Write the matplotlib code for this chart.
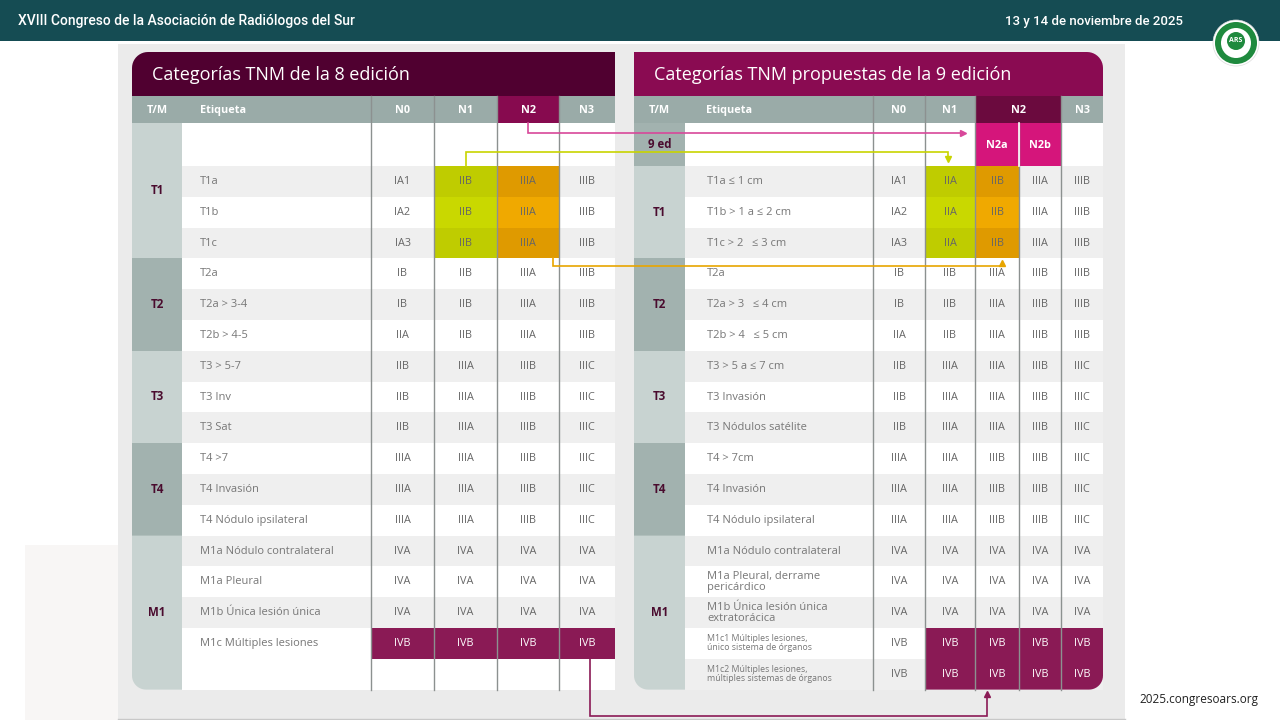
import numpy as np
import matplotlib
matplotlib.use("Agg")
import matplotlib.pyplot as plt
from matplotlib.patches import Polygon, Rectangle, Circle

# ---------------- data ----------------
header_title = "XVIII Congreso de la Asociación de Radiólogos del Sur"
header_date = "13 y 14 de noviembre de 2025"
footer_url = "2025.congresoars.org"

left_title = "Categorías TNM de la 8 edición"
right_title = "Categorías TNM propuestas de la 9 edición"

left_cols = ["T/M", "Etiqueta", "N0", "N1", "N2", "N3"]
right_cols = ["T/M", "Etiqueta", "N0", "N1", "N2", "N3"]
right_subcols = ["N2a", "N2b"]

left_group_names = ["T1", "T2", "T3", "T4", "M1"]
left_group_rows = [4, 3, 3, 3, 5]
right_group_names = ["9 ed", "T1", "T2", "T3", "T4", "M1"]
right_group_rows = [1, 3, 3, 3, 3, 5]

left_labels = ["", "T1a", "T1b", "T1c", "T2a", "T2a > 3-4", "T2b > 4-5",
               "T3 > 5-7", "T3 Inv", "T3 Sat", "T4 >7", "T4 Invasión",
               "T4 Nódulo ipsilateral", "M1a Nódulo contralateral",
               "M1a Pleural", "M1b Única lesión única",
               "M1c Múltiples lesiones", ""]
left_values = [
    ["", "", "", ""],
    ["IA1", "IIB", "IIIA", "IIIB"],
    ["IA2", "IIB", "IIIA", "IIIB"],
    ["IA3", "IIB", "IIIA", "IIIB"],
    ["IB", "IIB", "IIIA", "IIIB"],
    ["IB", "IIB", "IIIA", "IIIB"],
    ["IIA", "IIB", "IIIA", "IIIB"],
    ["IIB", "IIIA", "IIIB", "IIIC"],
    ["IIB", "IIIA", "IIIB", "IIIC"],
    ["IIB", "IIIA", "IIIB", "IIIC"],
    ["IIIA", "IIIA", "IIIB", "IIIC"],
    ["IIIA", "IIIA", "IIIB", "IIIC"],
    ["IIIA", "IIIA", "IIIB", "IIIC"],
    ["IVA", "IVA", "IVA", "IVA"],
    ["IVA", "IVA", "IVA", "IVA"],
    ["IVA", "IVA", "IVA", "IVA"],
    ["IVB", "IVB", "IVB", "IVB"],
    ["", "", "", ""],
]

right_labels = ["", "T1a ≤ 1 cm", "T1b > 1 a ≤ 2 cm", "T1c > 2   ≤ 3 cm",
                "T2a", "T2a > 3   ≤ 4 cm", "T2b > 4   ≤ 5 cm",
                "T3 > 5 a ≤ 7 cm", "T3 Invasión", "T3 Nódulos satélite",
                "T4 > 7cm", "T4 Invasión", "T4 Nódulo ipsilateral",
                "M1a Nódulo contralateral", "M1a Pleural, derrame\npericárdico",
                "M1b Única lesión única\nextratorácica",
                "M1c1 Múltiples lesiones,\núnico sistema de órganos",
                "M1c2 Múltiples lesiones,\nmúltiples sistemas de órganos"]
right_values = [
    ["", "", "", "", ""],
    ["IA1", "IIA", "IIB", "IIIA", "IIIB"],
    ["IA2", "IIA", "IIB", "IIIA", "IIIB"],
    ["IA3", "IIA", "IIB", "IIIA", "IIIB"],
    ["IB", "IIB", "IIIA", "IIIB", "IIIB"],
    ["IB", "IIB", "IIIA", "IIIB", "IIIB"],
    ["IIA", "IIB", "IIIA", "IIIB", "IIIB"],
    ["IIB", "IIIA", "IIIA", "IIIB", "IIIC"],
    ["IIB", "IIIA", "IIIA", "IIIB", "IIIC"],
    ["IIB", "IIIA", "IIIA", "IIIB", "IIIC"],
    ["IIIA", "IIIA", "IIIB", "IIIB", "IIIC"],
    ["IIIA", "IIIA", "IIIB", "IIIB", "IIIC"],
    ["IIIA", "IIIA", "IIIB", "IIIB", "IIIC"],
    ["IVA", "IVA", "IVA", "IVA", "IVA"],
    ["IVA", "IVA", "IVA", "IVA", "IVA"],
    ["IVA", "IVA", "IVA", "IVA", "IVA"],
    ["IVB", "IVB", "IVB", "IVB", "IVB"],
    ["IVB", "IVB", "IVB", "IVB", "IVB"],
]

# ---------------- style / layout ----------------
FONT = ["Open Sans", "DejaVu Sans"]
TEAL = "#154c53"
PANEL = "#ebebeb"
HDR = "#9aaba8"
G_LIGHT = "#c8d3d1"
G_DARK = "#a2b2af"
ROW_GRAY = "#efefef"
LEFT_TITLE_C = "#500030"
RIGHT_TITLE_C = "#8a0b52"
N2_LEFT_C = "#870a4f"
N2_RIGHT_C = "#6b0a3e"
PINK = "#d5157b"
MAROON = "#8a1a55"
GREEN = ["#bfcc00", "#c9d800", "#bfcc00"]
ORANGE = ["#df9a00", "#f0a900", "#df9a00"]
TXT = "#666666"
LBL = "#777777"
GRP = "#4a0b2e"
VLINE = "#8c9190"

TOP = 123
ROW0_H = 43
ROW_H = 30.8
TITLE_Y0, TITLE_Y1 = 52, 96
HDR_Y1 = 123

L_EDGES = [132, 182, 371, 434, 497, 559, 615]
R_EDGES = [634, 685, 873, 925, 975, 1019, 1061, 1103]


def row_top(i):
    return TOP if i == 0 else TOP + ROW0_H + (i - 1) * ROW_H


def row_bot(i):
    return row_top(i) + (ROW0_H if i == 0 else ROW_H)


def rrect(ax, x0, y0, x1, y1, color, tl=0, tr=0, br=0, bl=0, z=1, **kw):
    pts = []
    def arc(cx, cy, r, a0, a1):
        th = np.radians(np.linspace(a0, a1, 12))
        return list(zip(cx + r * np.cos(th), cy + r * np.sin(th)))
    pts += arc(x1 - tr, y0 + tr, tr, -90, 0) if tr else [(x1, y0)]
    pts += arc(x1 - br, y1 - br, br, 0, 90) if br else [(x1, y1)]
    pts += arc(x0 + bl, y1 - bl, bl, 90, 180) if bl else [(x0, y1)]
    pts += arc(x0 + tl, y0 + tl, tl, 180, 270) if tl else [(x0, y0)]
    ax.add_patch(Polygon(pts, closed=True, facecolor=color, edgecolor="none",
                         zorder=z, **kw))


fig = plt.figure(figsize=(12.8, 7.2), dpi=100)
ax = fig.add_axes([0, 0, 1, 1])
ax.set_xlim(0, 1280)
ax.set_ylim(720, 0)
ax.axis("off")
fig.patch.set_facecolor("white")

# top bar
ax.add_patch(Rectangle((0, 0), 1280, 41, facecolor=TEAL, edgecolor="none", zorder=1))
ax.text(18, 21, header_title, color="white", fontsize=10, family=["Roboto", "DejaVu Sans"],
        fontweight="medium", va="center", ha="left", zorder=5)
ax.text(1183, 21, header_date, color="white", fontsize=9.5, family=["Roboto", "DejaVu Sans"],
        fontweight="medium", va="center", ha="right", zorder=5)

# logo
ax.add_patch(Circle((1236, 43), 23, facecolor="white", edgecolor="#dddddd", lw=0.5, zorder=6))
ax.add_patch(Circle((1236, 43), 21, facecolor="#1f8a3e", edgecolor="none", zorder=7))
ax.add_patch(Circle((1236, 43), 15, facecolor="white", edgecolor="none", zorder=8))
ax.add_patch(Circle((1236, 41), 9, facecolor="#1f8a3e", edgecolor="none", zorder=9))
ax.text(1236, 41, "ARS", color="white", fontsize=5, fontweight="bold",
        ha="center", va="center", zorder=10, family=FONT)

# panel
ax.add_patch(Rectangle((118, 44), 1007, 676, facecolor=PANEL, edgecolor="none", zorder=0.5))
ax.plot([118, 1125], [719, 719], color="#c8c8c8", lw=1, zorder=0.6)
# faint building in the lower-left corner
ax.add_patch(Rectangle((25, 545), 93, 175, facecolor="#f8f6f5", edgecolor="none", zorder=0.4))

# footer
ax.text(1258, 699, footer_url, color="#222222", fontsize=8.5, ha="right", va="center",
        family=FONT, zorder=5)


def draw_table(edges, title, title_color, title_round, cols, label_x, n2_color, n2_span, n_rows):
    x0, x1 = edges[0], edges[-1]
    ybot = row_bot(n_rows - 1)
    if title_round == "left":
        rrect(ax, x0, TITLE_Y0, x1, TITLE_Y1, title_color, tl=16, z=2)
    else:
        rrect(ax, x0, TITLE_Y0, x1, TITLE_Y1, title_color, tr=16, z=2)
    ax.text(x0 + 20, (TITLE_Y0 + TITLE_Y1) / 2 + 1, title, color="white", fontsize=13,
            family=FONT, va="center", ha="left", zorder=5)
    ax.add_patch(Rectangle((x0, TITLE_Y1), x1 - x0, HDR_Y1 - TITLE_Y1, facecolor=HDR,
                           edgecolor="none", zorder=2))
    ax.add_patch(Rectangle((n2_span[0], TITLE_Y1), n2_span[1] - n2_span[0],
                           HDR_Y1 - TITLE_Y1, facecolor=n2_color, edgecolor="none", zorder=2.5))
    hy = (TITLE_Y1 + HDR_Y1) / 2 + 1
    ax.text((edges[0] + edges[1]) / 2, hy, cols[0], color="white", fontsize=7.8,
            fontweight="bold", ha="center", va="center", family=FONT, zorder=5)
    ax.text(label_x, hy, cols[1], color="white", fontsize=7.8, fontweight="bold",
            ha="left", va="center", family=FONT, zorder=5)
    return ybot, hy


# ---------- LEFT TABLE ----------
nL = len(left_labels)
ybot, hy = draw_table(L_EDGES, left_title, LEFT_TITLE_C, "left", left_cols,
                      200, N2_LEFT_C, (L_EDGES[4], L_EDGES[5]), nL)
for j, c in enumerate(left_cols[2:]):
    ax.text((L_EDGES[2 + j] + L_EDGES[3 + j]) / 2, hy, c, color="white", fontsize=7.8,
            fontweight="bold", ha="center", va="center", family=FONT, zorder=5)

for i in range(nL):
    col = ROW_GRAY if (i % 2 == 1 and i < nL - 1) else "white"
    ax.add_patch(Rectangle((L_EDGES[1], row_top(i)), L_EDGES[-1] - L_EDGES[1],
                           row_bot(i) - row_top(i), facecolor=col, edgecolor="none", zorder=2))
r = 0
for k, (g, n) in enumerate(zip(left_group_names, left_group_rows)):
    gc = G_LIGHT if k % 2 == 0 else G_DARK
    yt, yb = row_top(r), row_bot(r + n - 1)
    bl = 14 if k == len(left_group_names) - 1 else 0
    rrect(ax, L_EDGES[0], yt, L_EDGES[1], yb, gc, bl=bl, z=2)
    ax.text((L_EDGES[0] + L_EDGES[1]) / 2, (yt + yb) / 2, g, color=GRP, fontsize=8.3,
            fontweight="bold", ha="center", va="center", family=FONT, zorder=5)
    r += n
for t in range(3):
    i = 1 + t
    ax.add_patch(Rectangle((L_EDGES[3], row_top(i)), L_EDGES[4] - L_EDGES[3], ROW_H,
                           facecolor=GREEN[t], edgecolor="none", zorder=2.5))
    ax.add_patch(Rectangle((L_EDGES[4], row_top(i)), L_EDGES[5] - L_EDGES[4], ROW_H,
                           facecolor=ORANGE[t], edgecolor="none", zorder=2.5))
ax.add_patch(Rectangle((L_EDGES[2], row_top(16)), L_EDGES[-1] - L_EDGES[2], ROW_H,
                       facecolor=MAROON, edgecolor="none", zorder=2.5))
for i in range(nL):
    yc = (row_top(i) + row_bot(i)) / 2
    if left_labels[i]:
        ax.text(200, yc, left_labels[i], color=LBL, fontsize=8, ha="left", va="center",
                family=FONT, zorder=5)
    for j, v in enumerate(left_values[i]):
        if v:
            tc = "white" if i == 16 else TXT
            ax.text((L_EDGES[2 + j] + L_EDGES[3 + j]) / 2, yc, v, color=tc, fontsize=7.8,
                    ha="center", va="center", family=FONT, zorder=5)
for xv in L_EDGES[2:-1]:
    ax.plot([xv, xv], [TITLE_Y1, ybot], color=VLINE, lw=1, zorder=3)

# ---------- RIGHT TABLE ----------
nR = len(right_labels)
ybot, hy = draw_table(R_EDGES, right_title, RIGHT_TITLE_C, "right", right_cols,
                      706, N2_RIGHT_C, (R_EDGES[4], R_EDGES[6]), nR)
hdr_centers = [(R_EDGES[2] + R_EDGES[3]) / 2, (R_EDGES[3] + R_EDGES[4]) / 2,
               (R_EDGES[4] + R_EDGES[6]) / 2, (R_EDGES[6] + R_EDGES[7]) / 2]
for c, xc in zip(right_cols[2:], hdr_centers):
    ax.text(xc, hy, c, color="white", fontsize=7.8, fontweight="bold",
            ha="center", va="center", family=FONT, zorder=5)
for i in range(nR):
    col = ROW_GRAY if i % 2 == 1 else "white"
    ax.add_patch(Rectangle((R_EDGES[1], row_top(i)), R_EDGES[-1] - R_EDGES[1],
                           row_bot(i) - row_top(i), facecolor=col, edgecolor="none", zorder=2))
for j, s in enumerate(right_subcols):
    xa, xb = R_EDGES[4 + j], R_EDGES[5 + j]
    ax.add_patch(Rectangle((xa, row_top(0)), xb - xa, ROW0_H, facecolor=PINK,
                           edgecolor="none", zorder=2.5))
    ax.text((xa + xb) / 2, row_top(0) + 22, s, color="white", fontsize=7.8,
            fontweight="bold", ha="center", va="center", family=FONT, zorder=5)
r = 0
for k, (g, n) in enumerate(zip(right_group_names, right_group_rows)):
    gc = G_DARK if k % 2 == 0 else G_LIGHT
    yt, yb = row_top(r), row_bot(r + n - 1)
    bl = 14 if k == len(right_group_names) - 1 else 0
    rrect(ax, R_EDGES[0], yt, R_EDGES[1], yb, gc, bl=bl, z=2)
    ax.text((R_EDGES[0] + R_EDGES[1]) / 2, (yt + yb) / 2, g, color=GRP, fontsize=8.3,
            fontweight="bold", ha="center", va="center", family=FONT, zorder=5)
    r += n
for t in range(3):
    i = 1 + t
    ax.add_patch(Rectangle((R_EDGES[3], row_top(i)), R_EDGES[4] - R_EDGES[3], ROW_H,
                           facecolor=GREEN[t], edgecolor="none", zorder=2.5))
    ax.add_patch(Rectangle((R_EDGES[4], row_top(i)), R_EDGES[5] - R_EDGES[4], ROW_H,
                           facecolor=ORANGE[t], edgecolor="none", zorder=2.5))
rrect(ax, R_EDGES[3], row_top(16), R_EDGES[-1], row_bot(17), MAROON, br=14, z=2.5)
for i in range(nR):
    yc = (row_top(i) + row_bot(i)) / 2
    lab = right_labels[i]
    if lab:
        fs = 6.3 if i >= 16 else 8
        ax.text(707, yc, lab, color=LBL, fontsize=fs, ha="left", va="center",
                family=FONT, zorder=5, linespacing=1.0)
    for j, v in enumerate(right_values[i]):
        if v:
            tc = "white" if (i >= 16 and j >= 1) else TXT
            ax.text((R_EDGES[2 + j] + R_EDGES[3 + j]) / 2, yc, v, color=tc, fontsize=7.8,
                    ha="center", va="center", family=FONT, zorder=5)
for xv in [R_EDGES[2], R_EDGES[3], R_EDGES[4], R_EDGES[6]]:
    ax.plot([xv, xv], [TITLE_Y1, ybot], color=VLINE, lw=1, zorder=3)
ax.plot([R_EDGES[5], R_EDGES[5]], [HDR_Y1, ybot], color=VLINE, lw=1, zorder=3)
ax.plot([R_EDGES[5], R_EDGES[5]], [HDR_Y1, row_bot(0)], color="white", lw=1.2, zorder=3.1)

# ---------- connector arrows ----------
def connector(xs, ys, color, marker):
    ax.plot(xs, ys, color=color, lw=1.2, zorder=6, solid_joinstyle="miter")
    ax.plot(xs[-1], ys[-1], marker=marker, color=color, markersize=4.5, zorder=6)

lN2 = (L_EDGES[4] + L_EDGES[5]) / 2
connector([lN2, lN2, 963], [HDR_Y1, 133, 133], "#d8489a", ">")
lN1 = (L_EDGES[3] + L_EDGES[4]) / 2
connector([lN1, lN1, 948, 948], [row_top(1), 152, 152, 159], "#c8d400", "v")
connector([553, 553, 1002, 1002], [row_bot(3), 266, 266, 263], "#e8a500", "^")
connector([590, 590, 987, 987], [row_bot(16), 716, 716, 694], "#8a1a55", "^")

fig.savefig("out.png", dpi=100, facecolor="white")
